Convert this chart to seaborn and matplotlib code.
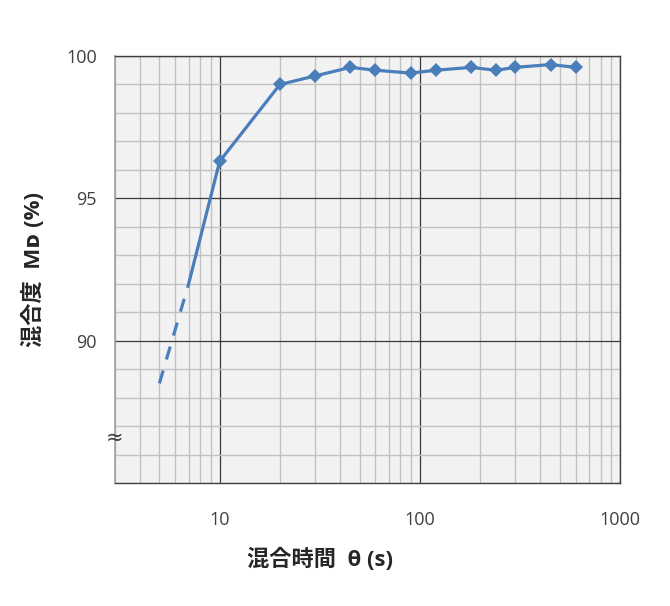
import matplotlib
matplotlib.use("Agg")
import matplotlib.pyplot as plt
import matplotlib.ticker as mticker
import matplotlib.transforms as mtransforms
import pandas as pd
import seaborn as sns

# mixing time (s) vs degree of mixing MD (%)
time_s = [10, 20, 30, 45, 60, 90, 120, 180, 240, 300, 450, 600]
mixing_pct = [96.3, 99.0, 99.3, 99.6, 99.5, 99.4, 99.5, 99.6, 99.5, 99.6, 99.7, 99.6]

# extrapolated part below 10 s
solid_ext_x = [7, 10]
solid_ext_y = [92.0, 96.3]
dashed_ext_x = [5, 7]
dashed_ext_y = [88.5, 92.0]

x_ticks = [10, 100, 1000]
x_ticklabels = ["10", "100", "1000"]
y_ticks = [90, 95, 100]
y_ticklabels = ["90", "95", "100"]

sns.set_theme(style="white")
plt.rcParams["font.family"] = ["Open Sans", "Noto Sans CJK JP", "DejaVu Sans"]

blue = "#4a7ebb"

fig = plt.figure(figsize=(6.7, 6.06), dpi=100)
ax = fig.add_axes([115 / 670, 1 - 483 / 606, 505 / 670, 427 / 606])
ax.set_facecolor("#f2f2f2")

df = pd.DataFrame({"time": time_s, "mix": mixing_pct})
sns.lineplot(data=df, x="time", y="mix", ax=ax, color=blue, lw=2.3,
             marker="D", markersize=7, markeredgewidth=0, zorder=5)
sns.lineplot(x=solid_ext_x, y=solid_ext_y, ax=ax, color=blue, lw=2.3, zorder=5)
sns.lineplot(x=dashed_ext_x, y=dashed_ext_y, ax=ax, color=blue, lw=2.3,
             zorder=5, linestyle=(0, (4.2, 3.6)))

ax.set_xscale("log")
ax.set_xlim(3, 1000)
ax.set_ylim(85, 100)

ax.xaxis.set_major_locator(mticker.FixedLocator(x_ticks))
ax.xaxis.set_minor_locator(mticker.LogLocator(base=10, subs=range(2, 10)))
ax.xaxis.set_minor_formatter(mticker.NullFormatter())
ax.set_xticklabels(x_ticklabels)
ax.set_yticks(y_ticks)
ax.set_yticklabels(y_ticklabels)
ax.yaxis.set_minor_locator(mticker.MultipleLocator(1))

ax.grid(which="minor", axis="both", color="#c2c2c2", lw=1.0)
ax.grid(which="major", axis="both", color="#3a3a3a", lw=0.9)
ax.set_axisbelow(True)

ax.tick_params(axis="x", which="both", direction="in", length=4, width=0.9,
               color="#404040", pad=20, labelsize=13, labelcolor="#404040")
ax.tick_params(axis="y", which="both", direction="out", length=7, width=0.9,
               color="#404040", pad=6, labelsize=13, labelcolor="#404040")

for side in ["top", "right", "bottom"]:
    ax.spines[side].set_color("#404040")
    ax.spines[side].set_linewidth(1.0)
ax.spines["left"].set_color("#a0a0a0")
ax.spines["left"].set_linewidth(1.2)

ax.set_xlabel("混合時間  θ (s)", fontsize=16, fontweight="bold")
ax.xaxis.set_label_coords(0.406, -0.152)
ax.set_ylabel("混合度  Mᴅ (%)", fontsize=16, fontweight="bold",
              family=["Open Sans", "Noto Sans CJK JP", "DejaVu Sans"])
ax.yaxis.set_label_coords(-0.139, 0.5)

# axis break mark
trans = mtransforms.blended_transform_factory(ax.transAxes, ax.transData)
ax.text(0, 86.6, "≈", transform=trans, ha="center", va="center",
        fontsize=15, color="#404040", family=["DejaVu Sans"])

fig.savefig("out.png", dpi=100)
